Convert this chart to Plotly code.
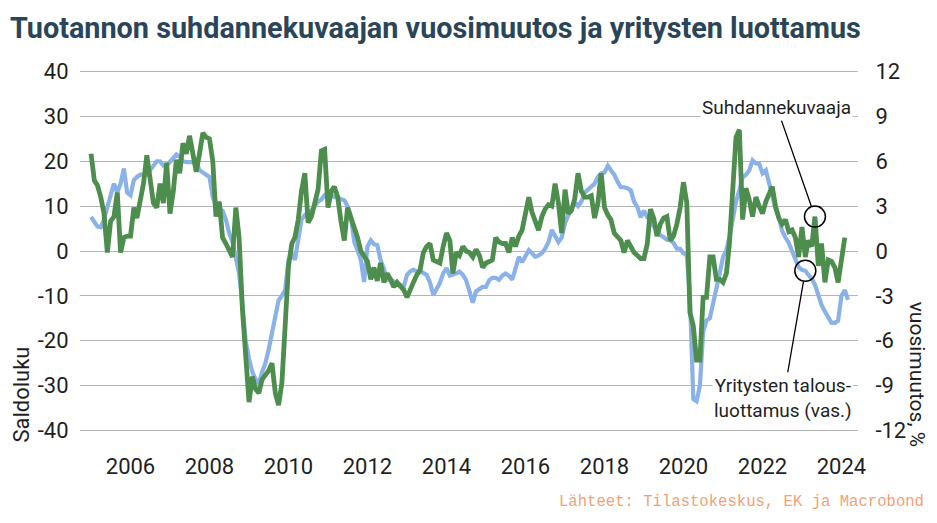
import pandas as pd
import plotly.graph_objects as go

# Yritysten talousluottamus (saldoluku, vasen akseli), kuukausittain 2005-01 ->
confidence = [
    7.6, 6.5, 5.5, 5.3, 7.0, 9.8, 12.0, 15.0, 13.0, 15.0, 18.4, 13.0,        # 2005
    12.4, 15.8, 16.5, 17.0, 17.0, 17.0, 18.0, 19.0, 20.0, 20.0, 19.0, 19.0,  # 2006
    19.8, 20.5, 21.5, 21.0, 20.0, 19.8, 19.8, 20.0, 19.8, 18.0, 17.5, 17.0,  # 2007
    16.5, 12.0, 10.0, 9.5, 9.0, 7.0, 4.0, 2.0, -1.5, -5.0, -12.0, -20.0,     # 2008
    -24.0, -27.0, -28.5, -29.5, -27.0, -25.0, -22.0, -18.0, -14.0, -11.0, -10.0, -8.7,  # 2009
    -2.0, -0.5, -2.0, 3.0, 7.0, 8.0, 8.5, 9.0, 10.0, 11.0, 11.5, 12.4,      # 2010
    12.9, 12.5, 12.0, 12.0, 11.5, 11.3, 10.0, 7.6, 2.0, 0.2, -2.0, -6.9,     # 2011
    1.0, 2.4, 1.5, 1.3, -2.0, -4.0, -6.4, -6.4, -6.8, -7.1, -7.5, -8.0,      # 2012
    -5.3, -4.5, -4.2, -4.5, -4.5, -5.0, -5.3, -7.0, -9.8, -8.5, -7.1, -5.0,  # 2013
    -3.8, -5.5, -5.3, -5.0, -4.6, -5.3, -6.5, -8.7, -11.5, -9.0, -8.5, -8.0, # 2014
    -8.0, -6.5, -6.0, -6.0, -6.4, -5.5, -5.0, -5.5, -6.4, -4.0, -1.3, -2.5,  # 2015
    -1.0, 0.2, -0.5, -1.3, -1.0, -0.5, 0.5, 2.0, 4.7, 3.5, 2.0, 3.0,         # 2016
    6.2, 8.0, 9.5, 10.9, 10.0, 11.0, 13.0, 13.6, 14.2, 15.0, 16.5, 17.3,     # 2017
    17.5, 19.0, 18.0, 17.0, 15.5, 14.2, 14.2, 14.0, 13.5, 11.0, 9.8, 7.5,    # 2018
    9.0, 7.5, 6.9, 5.5, 4.7, 3.5, 3.1, 2.5, 2.4, 1.8, 0.5, 0.5,              # 2019
    -0.5, -1.0, -10.0, -33.0, -33.5, -30.0, -18.0, -15.5, -15.0, -12.0, -8.7, -5.0,  # 2020
    -1.3, 0.2, 3.0, 7.6, 11.0, 13.6, 16.4, 17.0, 18.0, 20.2, 19.5, 19.5,     # 2021
    17.3, 18.0, 15.0, 12.5, 9.5, 7.5, 4.5, 3.0, 1.8, 0.0, -2.0, -3.6,        # 2022
    -4.2, -4.4, -5.3, -6.2, -7.5, -10.0, -12.0, -13.5, -14.7, -16.0, -16.0, -15.5,  # 2023
    -10.0, -8.7, -10.9,                                                      # 2024
]

# Tuotannon suhdannekuvaajan vuosimuutos (%, oikea akseli), kuukausittain 2005-01 ->
production_yoy = [
    6.5, 4.7, 4.4, 3.6, 2.5, -0.1, 2.0, 2.3, 3.9, -0.1, 0.9, 1.0,            # 2005
    1.0, 2.9, 2.2, 3.2, 4.5, 6.4, 4.7, 3.2, 2.9, 4.5, 3.2, 5.9,              # 2006
    2.5, 4.0, 6.1, 5.2, 7.2, 6.5, 7.7, 6.5, 5.3, 6.5, 7.9, 7.6,              # 2007
    7.5, 6.0, 2.3, 3.3, 0.9, 0.5, 0.1, -0.4, 2.9, 0.9, -3.9, -7.3,           # 2008
    -10.1, -8.4, -9.2, -9.5, -8.6, -8.3, -8.0, -7.5, -9.5, -10.3, -8.8, -5.0,  # 2009
    -1.0, 0.5, 0.9, 2.1, 4.0, 5.2, 1.9, 2.3, 3.3, 4.1, 6.7, 6.8,             # 2010
    2.9, 4.0, 4.3, 3.6, 2.0, 0.7, 2.9, 2.3, 1.5, 0.9, 0.0, -0.3,             # 2011
    -0.7, -1.9, -1.1, -2.0, -0.8, -2.1, -1.5, -1.9, -2.4, -2.1, -2.3, -2.6,  # 2012
    -3.1, -2.5, -2.1, -1.6, -1.3, -0.1, 0.3, 0.5, -0.6, -0.7, -0.8, 0.3,     # 2013
    1.2, 0.7, -1.5, -0.1, -0.3, 0.3, 0.0, -0.1, -0.4, 0.1, -0.3, -1.1,       # 2014
    -0.8, -0.7, -0.6, 0.9, 0.6, 0.5, 0.5, -0.1, 0.9, 0.3, 1.0, 1.4,          # 2015
    2.5, 3.6, 2.6, 2.0, 1.4, 2.3, 2.8, 3.1, 3.0, 4.5, 3.2, 1.2,              # 2016
    4.1, 2.5, 2.7, 3.5, 5.2, 4.0, 3.6, 3.6, 3.7, 2.2, 3.2, 5.2,              # 2017
    2.9, 2.4, 2.1, 1.2, 1.0, 0.7, -0.1, 0.7, 0.3, -0.1, -0.3, -0.5,          # 2018
    -0.5, 0.5, 2.8, 2.2, 1.0, 1.8, 2.2, 2.3, 0.7, 1.0, 1.8, 2.9,             # 2019
    4.6, 3.2, -4.1, -5.0, -7.3, -7.3, -3.1, -3.1, -0.4, -0.4, -1.9, -1.9,    # 2020
    -2.1, -1.5, 0.5, 3.9, 7.6, 8.1, 2.1, 4.2, 3.4, 2.3, 3.6, 3.0,            # 2021
    2.5, 3.3, 3.8, 4.3, 3.0, 2.2, 1.8, 2.1, 1.3, 1.4, 0.9, -0.4,             # 2022
    1.6, -0.4, 0.7, 0.3, 2.3, -1.0, 0.5, -2.1, -0.6, -0.7, -1.1, -2.1,       # 2023
    -0.6, 0.9,                                                               # 2024
]

start = "2005-01-01"
conf_dates = pd.date_range(start, periods=len(confidence), freq="MS")
prod_dates = pd.date_range(start, periods=len(production_yoy), freq="MS")

left_ticks = [40, 30, 20, 10, 0, -10, -20, -30, -40]
left_labels = ["40", "30", "20", "10", "0", "-10", "-20", "-30", "-40"]
right_ticks = [12, 9, 6, 3, 0, -3, -6, -9, -12]
right_labels = ["12", "9", "6", "3", "0", "-3", "-6", "-9", "-12"]
year_labels = ["2006", "2008", "2010", "2012", "2014", "2016", "2018", "2020", "2022", "2024"]
year_ticks = [f"{y}-01-01" for y in year_labels]

title_text = "Tuotannon suhdannekuvaajan vuosimuutos ja yritysten luottamus"
source_text = "Lähteet: Tilastokeskus, EK ja Macrobond"
label_prod = "Suhdannekuvaaja"
label_conf = "Yritysten talous-<br>luottamus (vas.)"

# points highlighted by the callouts
prod_idx = 12 * 18 + 4   # 2023-05
conf_idx = 12 * 18 + 1   # 2023-02

BLUE = "#8ab2e8"
GREEN = "#4d8d4d"
FONT = "Roboto"
TXT = "#1f1f1f"

fig = go.Figure()
fig.add_trace(go.Scatter(x=conf_dates, y=confidence, mode="lines",
                         line=dict(color=BLUE, width=4.2), yaxis="y",
                         name="Yritysten talousluottamus", showlegend=False))
fig.add_trace(go.Scatter(x=prod_dates, y=production_yoy, mode="lines",
                         line=dict(color=GREEN, width=4.8), yaxis="y2",
                         name="Suhdannekuvaaja", showlegend=False))

fig.update_layout(
    width=937, height=523,
    margin=dict(l=80, r=79, t=66.5, b=87.5),
    paper_bgcolor="white", plot_bgcolor="white",
    font=dict(family=FONT, color=TXT, size=20),
    title=dict(text=f"<b>{title_text}</b>", x=10 / 937, xanchor="left",
               y=1 - 28 / 523, yanchor="middle", xref="container", yref="container",
               font=dict(family=FONT, size=28.8, color="#2b4558")),
    xaxis=dict(type="date", range=["2004-09-21", "2024-06-02"],
               tickmode="array", tickvals=year_ticks, ticktext=year_labels,
               showgrid=False, zeroline=False, showline=False,
               ticks="outside", ticklen=12, tickcolor="rgba(0,0,0,0)",
               tickfont=dict(size=22, color=TXT)),
    yaxis=dict(range=[-41, 41], tickmode="array", tickvals=left_ticks, ticktext=left_labels,
               showgrid=True, gridcolor="#b5b5b5", gridwidth=1, zeroline=False,
               showline=False, ticks="outside", ticklen=6, tickcolor="rgba(0,0,0,0)",
               tickfont=dict(size=22, color=TXT)),
    yaxis2=dict(range=[-12.3, 12.3], overlaying="y", side="right",
                tickmode="array", tickvals=right_ticks, ticktext=right_labels,
                showgrid=False, zeroline=False, showline=False,
                ticks="outside", ticklen=12, tickcolor="rgba(0,0,0,0)",
                tickfont=dict(size=22, color=TXT)),
    showlegend=False,
)

# callout circles
fig.add_shape(type="circle", xref="x", yref="y2", xsizemode="pixel", ysizemode="pixel",
              xanchor=prod_dates[prod_idx], yanchor=production_yoy[prod_idx],
              x0=-10.5, x1=10.5, y0=-10.5, y1=10.5, line=dict(color="black", width=1.5))
fig.add_shape(type="circle", xref="x", yref="y", xsizemode="pixel", ysizemode="pixel",
              xanchor=conf_dates[conf_idx], yanchor=confidence[conf_idx],
              x0=-10.5, x1=10.5, y0=-10.5, y1=10.5, line=dict(color="black", width=1.5))

# callout labels with leader lines
fig.add_annotation(x=prod_dates[prod_idx], y=production_yoy[prod_idx], xref="x", yref="y2",
                   text=label_prod, showarrow=True, arrowhead=0, arrowwidth=1.3,
                   arrowcolor="black", standoff=11, ax=-38, ay=-109,
                   bgcolor="white", borderpad=1,
                   font=dict(family=FONT, size=19, color=TXT))
fig.add_annotation(x=conf_dates[conf_idx], y=confidence[conf_idx], xref="x", yref="y",
                   text=label_conf, showarrow=True, arrowhead=0, arrowwidth=1.3,
                   arrowcolor="black", standoff=11, ax=-22, ay=127,
                   bgcolor="white", borderpad=1, align="center",
                   font=dict(family=FONT, size=19, color=TXT))

# axis titles
fig.add_annotation(text="Saldoluku", xref="paper", yref="paper",
                   x=(22 - 80) / 778, y=(435.5 - 395) / 369, xanchor="center", yanchor="middle",
                   textangle=-90, showarrow=False, font=dict(family=FONT, size=22, color=TXT))
fig.add_annotation(text="vuosimuutos, %", xref="paper", yref="paper",
                   x=(917 - 80) / 778, y=(435.5 - 375) / 369, xanchor="center", yanchor="middle",
                   textangle=90, showarrow=False, font=dict(family=FONT, size=21, color=TXT))

# source
fig.add_annotation(text=source_text, xref="paper", yref="paper",
                   x=(926 - 80) / 778, y=(435.5 - 503) / 369, xanchor="right", yanchor="middle",
                   showarrow=False, font=dict(family="Liberation Mono", size=15.6, color="#f2a175"))

fig.write_html("out.html",
               config={"displayModeBar": False},
               post_script="document.body.style.margin='0px';"
                           "document.documentElement.style.overflow='hidden';")
